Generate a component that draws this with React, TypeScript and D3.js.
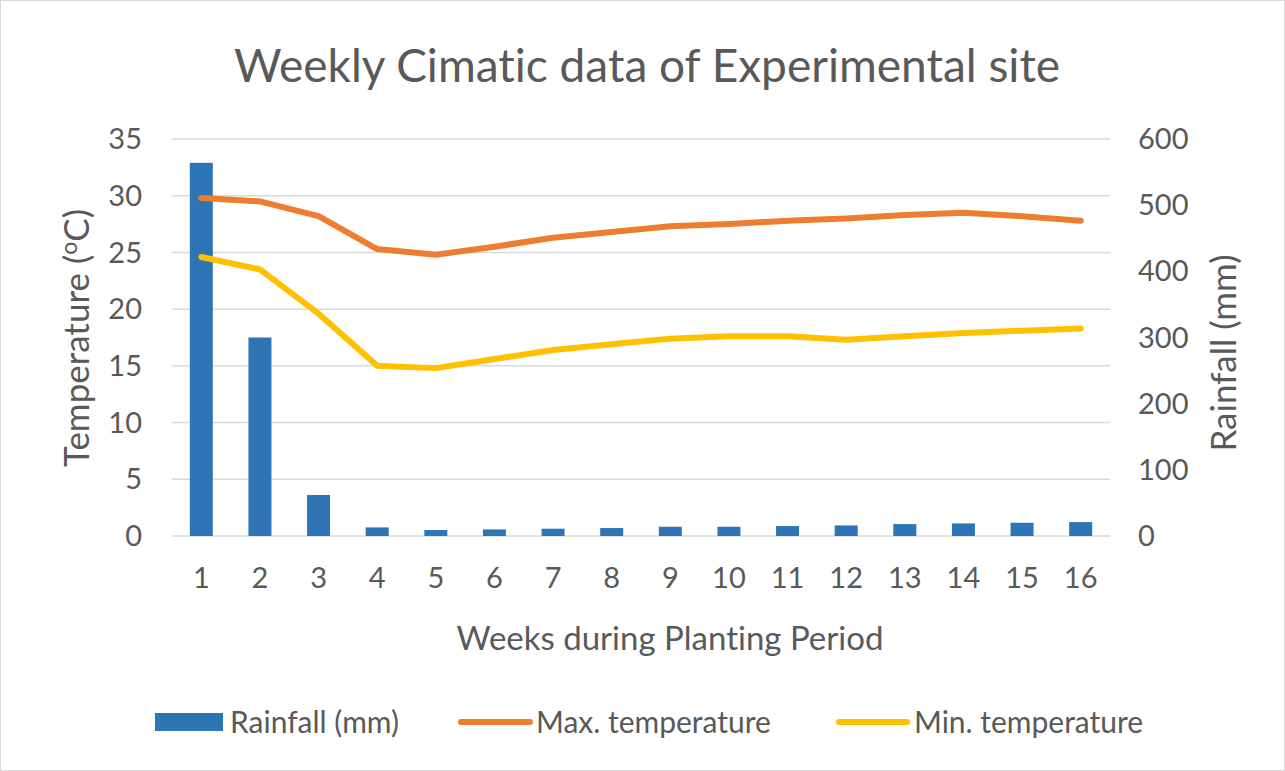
import React, { useEffect, useRef } from 'react';
import * as d3 from 'd3';

// weekly climate series
const weeks = ['1', '2', '3', '4', '5', '6', '7', '8', '9', '10', '11', '12', '13', '14', '15', '16'];
const rainfall = [564, 300, 62, 13, 9, 10, 11, 12, 14, 14, 15, 16, 18, 19, 20, 21];
const maxTemp = [29.8, 29.5, 28.2, 25.3, 24.8, 25.5, 26.3, 26.8, 27.3, 27.5, 27.8, 28.0, 28.3, 28.5, 28.2, 27.8];
const minTemp = [24.6, 23.5, 19.6, 15.0, 14.8, 15.6, 16.4, 16.9, 17.4, 17.6, 17.6, 17.3, 17.6, 17.9, 18.1, 18.3];
const tempTicks = [0, 5, 10, 15, 20, 25, 30, 35];
const rainTicks = [0, 100, 200, 300, 400, 500, 600];

const FONT = 'Lato, "Open Sans", sans-serif';
const TEXT = '#595959';
const BLUE = '#2e75b6';
const ORANGE = '#ed7d31';
const YELLOW = '#ffc000';

export default function App() {
  const svgRef = useRef<SVGSVGElement | null>(null);

  useEffect(() => {
    if (!svgRef.current) return;
    const width = 1285;
    const height = 771;
    const margin = { top: 139, right: 175, bottom: 235, left: 172 };
    const chartWidth = width - margin.left - margin.right;
    const chartHeight = height - margin.top - margin.bottom;

    const root = d3.select(svgRef.current);
    root.selectAll('*').remove();
    root.attr('width', width).attr('height', height)
      .style('font-variant-ligatures', 'none');

    root.append('rect')
      .attr('x', 0.5).attr('y', 0.5)
      .attr('width', width - 1).attr('height', height - 1)
      .attr('fill', 'white')
      .attr('stroke', '#d9d9d9');

    const svg = root.append('g')
      .attr('transform', `translate(${margin.left}, ${margin.top})`);

    // Scales
    const x = d3.scaleBand().domain(weeks).range([0, chartWidth]);
    const yTemp = d3.scaleLinear().domain([0, 35]).range([chartHeight, 0]);
    const yRain = d3.scaleLinear().domain([0, 600]).range([chartHeight, 0]);

    // Grid lines
    svg.append('g')
      .selectAll('line')
      .data(tempTicks)
      .enter()
      .append('line')
      .attr('x1', 0)
      .attr('x2', chartWidth)
      .attr('y1', d => yTemp(d))
      .attr('y2', d => yTemp(d))
      .attr('stroke', '#d9d9d9')
      .attr('stroke-width', 1.5);

    // Rainfall bars
    const barW = 23;
    svg.append('g')
      .selectAll('rect')
      .data(rainfall)
      .enter()
      .append('rect')
      .attr('x', (d, i) => (x(weeks[i]) ?? 0) + x.bandwidth() / 2 - barW / 2)
      .attr('y', d => yRain(d))
      .attr('width', barW)
      .attr('height', d => chartHeight - yRain(d))
      .attr('fill', BLUE);

    // Temperature lines
    const line = d3.line<number>()
      .x((d, i) => (x(weeks[i]) ?? 0) + x.bandwidth() / 2)
      .y(d => yTemp(d));

    [[maxTemp, ORANGE], [minTemp, YELLOW]].forEach(([data, color]) => {
      svg.append('path')
        .datum(data as number[])
        .attr('fill', 'none')
        .attr('stroke', color as string)
        .attr('stroke-width', 6)
        .attr('stroke-linecap', 'round')
        .attr('stroke-linejoin', 'round')
        .attr('d', line);
    });

    // Left axis labels
    svg.append('g')
      .selectAll('text')
      .data(tempTicks)
      .enter()
      .append('text')
      .attr('x', -30)
      .attr('y', d => yTemp(d))
      .attr('dy', '0.35em')
      .attr('text-anchor', 'end')
      .attr('font-family', FONT)
      .attr('font-size', 29)
      .attr('fill', TEXT)
      .text(d => d);

    // Right axis labels
    svg.append('g')
      .selectAll('text')
      .data(rainTicks)
      .enter()
      .append('text')
      .attr('x', chartWidth + 28)
      .attr('y', d => yRain(d))
      .attr('dy', '0.35em')
      .attr('text-anchor', 'start')
      .attr('font-family', FONT)
      .attr('font-size', 29)
      .attr('fill', TEXT)
      .text(d => d);

    // X labels
    svg.append('g')
      .selectAll('text')
      .data(weeks)
      .enter()
      .append('text')
      .attr('x', d => (x(d) ?? 0) + x.bandwidth() / 2)
      .attr('y', chartHeight + 42)
      .attr('dy', '0.35em')
      .attr('text-anchor', 'middle')
      .attr('font-family', FONT)
      .attr('font-size', 29)
      .attr('fill', TEXT)
      .text(d => d);

    // Title
    root.append('text')
      .attr('x', 647)
      .attr('y', 82)
      .attr('text-anchor', 'middle')
      .attr('font-family', FONT)
      .attr('font-size', 46)
      .attr('fill', TEXT)
      .text('Weekly Cimatic data of Experimental site');

    // X axis title
    root.append('text')
      .attr('x', 670)
      .attr('y', 650)
      .attr('text-anchor', 'middle')
      .attr('font-family', FONT)
      .attr('font-size', 33)
      .attr('fill', TEXT)
      .text('Weeks during Planting Period');

    // Left axis title with superscript o
    const leftTitle = root.append('text')
      .attr('transform', 'translate(89, 338) rotate(-90)')
      .attr('text-anchor', 'middle')
      .attr('font-family', FONT)
      .attr('font-size', 35)
      .attr('fill', TEXT);
    leftTitle.append('tspan').text('Temperature (');
    leftTitle.append('tspan').attr('font-size', 23).attr('dy', -12).text('o');
    leftTitle.append('tspan').attr('dy', 12).text('C)');

    // Right axis title
    root.append('text')
      .attr('transform', 'translate(1236, 353) rotate(-90)')
      .attr('text-anchor', 'middle')
      .attr('font-family', FONT)
      .attr('font-size', 35)
      .attr('fill', TEXT)
      .text('Rainfall (mm)');

    // Legend
    const legendY = 722;
    const legend = root.append('g');
    legend.append('rect')
      .attr('x', 155).attr('y', legendY - 9)
      .attr('width', 68).attr('height', 18)
      .attr('fill', BLUE);
    legend.append('line')
      .attr('x1', 461).attr('x2', 530)
      .attr('y1', legendY).attr('y2', legendY)
      .attr('stroke', ORANGE).attr('stroke-width', 6).attr('stroke-linecap', 'round');
    legend.append('line')
      .attr('x1', 839).attr('x2', 907)
      .attr('y1', legendY).attr('y2', legendY)
      .attr('stroke', YELLOW).attr('stroke-width', 6).attr('stroke-linecap', 'round');
    [['Rainfall (mm)', 230], ['Max. temperature', 536], ['Min. temperature', 914]].forEach(([label, lx]) => {
      legend.append('text')
        .attr('x', lx as number)
        .attr('y', legendY)
        .attr('dy', '0.35em')
        .attr('font-family', FONT)
        .attr('font-size', 30)
        .attr('fill', TEXT)
        .text(label as string);
    });
  }, []);

  return (
    <div style={{ position: 'absolute', left: 0, top: 0 }}>
      <svg ref={svgRef} style={{ display: 'block' }}></svg>
    </div>
  );
}
